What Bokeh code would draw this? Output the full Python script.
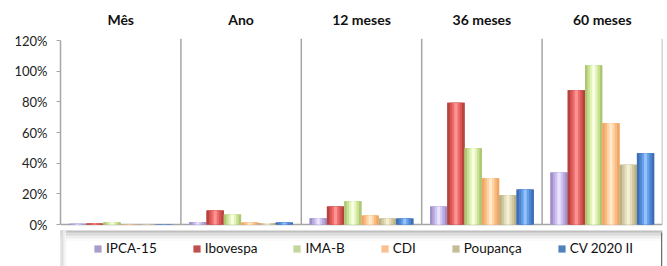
import numpy as np
from bokeh.plotting import figure
from bokeh.models import (LinearAxis, FixedTicker, Legend, LegendItem,
                          ColumnDataSource, BoxAnnotation, Range1d)
from bokeh.embed import file_html
from bokeh.resources import INLINE

# ---- data (percent) ----
groups = ["Mês", "Ano", "12 meses", "36 meses", "60 meses"]
series = ["IPCA-15", "Ibovespa", "IMA-B", "CDI", "Poupança", "CV 2020 II"]
ipca15 = [0.5, 1.5, 4.1, 11.7, 33.9]
ibovespa = [0.6, 9.1, 11.7, 79.4, 87.6]
imab = [1.5, 6.5, 15.2, 49.8, 103.9]
cdi = [0.2, 1.3, 5.9, 30.2, 66.1]
poupanca = [0.2, 1.0, 3.9, 19.1, 38.9]
cv2020 = [0.1, 1.3, 3.9, 22.8, 46.5]
y_ticks = [0, 20, 40, 60, 80, 100, 120]

values = [ipca15, ibovespa, imab, cdi, poupanca, cv2020]
legend_colors = ["#a99bcb", "#c0504d", "#c3d69b", "#fac090", "#c4bd97", "#4f81bd"]
shades = [
    ["#9f8fc8", "#b9aadf", "#d2c6f1", "#ebe4ff"],
    ["#b8403e", "#d65654", "#ee6e6c", "#ff9494"],
    ["#adc872", "#c9e194", "#e3f3ba", "#f8ffe2"],
    ["#f2a466", "#f9bb7f", "#ffd4a4", "#ffe9cc"],
    ["#b9b084", "#d0c8a0", "#e4ddbb", "#f5efd6"],
    ["#3e6eb6", "#4e86d0", "#68a0e8", "#92c2ff"],
]

PXY = 1.5333          # pixels per percent
Y_TOP = 186 / PXY     # frame top 186 px above zero
Y_BOT = -42 / PXY     # frame bottom 42 px below zero

p = figure(width=664, height=266, output_backend="svg", toolbar_location=None,
           x_range=Range1d(0, 5), y_range=Range1d(Y_BOT, Y_TOP),
           x_axis_location=None, min_border_left=60, min_border_right=2,
           min_border_top=38, min_border_bottom=0)
p.outline_line_color = None
p.xgrid.visible = False
p.ygrid.visible = False
p.background_fill_color = "white"

# legend box (decorative 3D frame)
px = 1.0 / PXY
ux = 5.0 / 602
box_top = -6 * px
p.add_layout(BoxAnnotation(left=-2 * ux, right=5, top=box_top, bottom=Y_BOT,
                           fill_color="white", fill_alpha=1, line_color=None, level="underlay"))
band_cols = ["#bfbfbf", "#cdcdcd", "#d9d9d9", "#e4e4e4", "#eeeeee", "#f5f5f5", "#fafafa"]
for k, c in enumerate(band_cols):
    p.add_layout(BoxAnnotation(left=-2 * ux, right=5, top=box_top - k * 1.5 * px,
                               bottom=box_top - (k + 1) * 1.5 * px,
                               fill_color=c, fill_alpha=1, line_color=None, level="underlay"))
left_cols = ["#bdbdbd", "#cfcfcf", "#dddddd", "#e9e9e9", "#f3f3f3"]
for k, c in enumerate(left_cols):
    p.add_layout(BoxAnnotation(left=-2 * ux + k * 1.5 * ux, right=-2 * ux + (k + 1) * 1.5 * ux,
                               top=box_top, bottom=Y_BOT,
                               fill_color=c, fill_alpha=1, line_color=None, level="underlay"))
p.add_layout(BoxAnnotation(left=5 - 1.5 * ux, right=5, top=box_top - 2 * px, bottom=Y_BOT,
                           fill_color="#6e6e6e", fill_alpha=1, line_color=None, level="underlay"))

# separators and baseline
gidx = np.arange(len(groups))
sep_x = list(gidx[1:]) + [len(groups)]
p.segment(x0=sep_x, y0=0, x1=sep_x, y1=Y_TOP, line_color="#a6a6a6", line_width=1.5)
p.segment(x0=[0], y0=[0], x1=[len(groups)], y1=[0], line_color="#a6a6a6", line_width=1.5)

# bars with cylinder shading
bw = 0.1437
margin = (1 - bw * len(series)) / 2
frac = [1.0, 0.72, 0.44, 0.18]
items = []
for i, (vals, sh, lc, name) in enumerate(zip(values, shades, legend_colors, series)):
    xs = gidx + margin + (i + 0.5) * bw
    src = ColumnDataSource(dict(x=xs, top=vals))
    base = p.vbar(x="x", top="top", bottom=0, width=bw, source=src, fill_color=lc, line_color=None)
    items.append(LegendItem(label=name, renderers=[base]))
    for f, c in zip(frac, sh):
        p.vbar(x="x", top="top", bottom=0, width=bw * f, source=src, fill_color=c, line_color=None)

# legend
leg = Legend(items=items, orientation="horizontal", location=(33, 10),
             background_fill_alpha=0, border_line_color=None, padding=0, margin=0,
             glyph_width=9, glyph_height=9, label_standoff=4, spacing=35,
             label_text_font="Lato", label_text_font_size="13.5px", label_text_color="#111111",
             label_height=14)
p.add_layout(leg, "center")

# y axis
ya = p.yaxis[0]
ya.bounds = (0, 120)
ya.ticker = FixedTicker(ticks=y_ticks)
ya.axis_line_color = "#a6a6a6"
ya.axis_line_width = 1.5
ya.major_tick_line_color = "#a6a6a6"
ya.major_tick_out = 4
ya.major_tick_in = 0
ya.minor_tick_line_color = None
ya.major_label_standoff = 9
ya.major_label_text_font = "Lato"
ya.major_label_text_font_size = "13px"
ya.major_label_text_color = "#222222"
ya.major_label_overrides = {t: f"{t}%" for t in y_ticks}

# group titles on an axis above
ta = LinearAxis(ticker=FixedTicker(ticks=list(gidx + 0.5)),
                major_label_overrides={float(g + 0.5): name for g, name in zip(gidx, groups)})
ta.axis_line_color = None
ta.major_tick_line_color = None
ta.minor_tick_line_color = None
ta.major_label_standoff = 5
ta.major_label_text_font = "Lato"
ta.major_label_text_font_style = "bold"
ta.major_label_text_font_size = "14px"
ta.major_label_text_color = "#111111"
p.add_layout(ta, "above")

open("out.html", "w").write(file_html(p, INLINE))
